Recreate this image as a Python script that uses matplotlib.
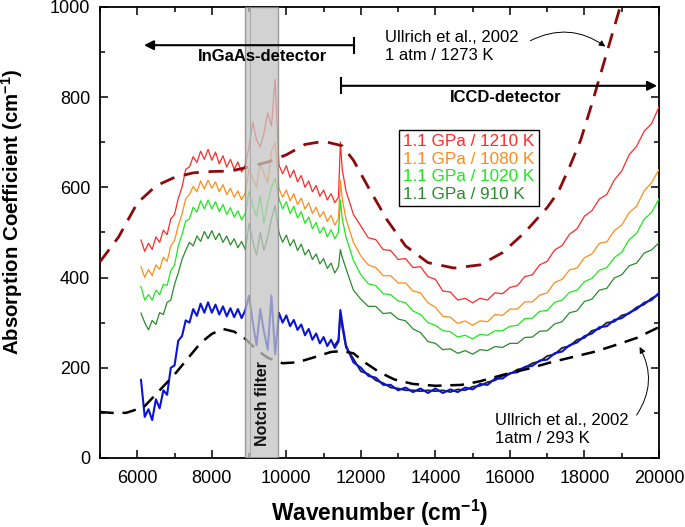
import numpy as np
import matplotlib
matplotlib.use('Agg')
import matplotlib.pyplot as plt
from matplotlib.ticker import MultipleLocator

plt.rcParams['font.family'] = ['Liberation Sans', 'DejaVu Sans']
plt.rcParams['mathtext.fontset'] = 'custom'
plt.rcParams['mathtext.rm'] = 'Liberation Sans'
plt.rcParams['mathtext.bf'] = 'Liberation Sans:bold'

# wavenumber grid of the measured spectra (cm-1)
wn = list(range(6100, 11401, 100)) + [11450, 11500] + list(range(11600, 20001, 200))

k1210 = [483, 458, 476, 462, 490, 478, 505, 495, 530, 540, 575, 600, 640, 645, 668, 655, 680, 662, 684, 660,
         678, 652, 670, 645, 662, 640, 656, 634, 650,
         690, 745, 705, 690, 720, 765, 735, 840,
         650, 630, 648, 622, 638, 612, 626, 600, 614, 590, 604, 580, 594, 572, 586, 566, 578,
         700, 640,
         592, 540, 514, 488, 484, 462, 460, 440, 442, 422, 424, 402, 396, 370, 368, 350, 354, 344, 354, 350,
         366, 364, 378, 382, 402, 406, 428, 436, 461, 471, 496, 508, 536, 548, 574, 584, 616, 636, 672, 691,
         724, 741, 778]
k1080 = [424, 400, 418, 404, 428, 418, 445, 436, 470, 482, 515, 540, 575, 584, 602, 590, 614, 596, 616, 598,
         612, 590, 606, 584, 598, 578, 592, 572, 588,
         640, 620, 600, 655, 630, 610, 680, 700,
         598, 578, 594, 570, 586, 562, 576, 552, 566, 542, 556, 534, 546, 524, 538, 516, 530,
         616, 575,
         530, 478, 448, 428, 422, 404, 404, 388, 388, 370, 366, 344, 334, 314, 312, 298, 304, 294, 304, 302,
         318, 316, 330, 330, 346, 346, 361, 366, 389, 396, 417, 421, 444, 452, 476, 479, 504, 516, 544, 558,
         592, 610, 639]
k1020 = [380, 350, 362, 350, 372, 362, 385, 382, 415, 428, 470, 495, 525, 530, 556, 545, 570, 552, 572, 552,
         568, 546, 562, 540, 555, 534, 548, 528, 542,
         590, 560, 535, 580, 520, 565, 600, 620,
         575, 552, 568, 542, 558, 532, 546, 520, 534, 508, 522, 498, 512, 490, 506, 486, 500,
         572, 530,
         490, 438, 406, 386, 382, 364, 362, 348, 344, 326, 318, 300, 294, 282, 280, 268, 272, 264, 274, 272,
         282, 282, 292, 294, 309, 310, 325, 327, 345, 350, 367, 372, 391, 398, 416, 422, 444, 456, 484, 498,
         529, 544, 574]
k910 = [321, 300, 284, 305, 296, 322, 318, 345, 350, 385, 410, 440, 460, 478, 470, 492, 480, 502, 486, 504,
        484, 498, 478, 492, 472, 486, 466, 480, 462,
        520, 480, 450, 500, 460, 490, 530, 560,
        500, 478, 494, 470, 484, 460, 474, 450, 462, 440, 452, 430, 442, 420, 432, 410, 424,
        462, 445,
        420, 372, 352, 336, 336, 320, 322, 308, 304, 286, 278, 258, 254, 240, 242, 232, 238, 230, 240, 238,
        247, 245, 254, 254, 267, 268, 281, 282, 297, 302, 322, 326, 347, 352, 372, 376, 399, 406, 426, 432,
        454, 461, 477]
k293_blue = [173, 91, 108, 84, 130, 110, 150, 140, 200, 205, 260, 270, 305, 300, 330, 315, 342, 322, 345, 322,
             340, 318, 336, 314, 332, 312, 330, 310, 328,
             360, 300, 250, 330, 280, 240, 360, 230,
             322, 300, 316, 292, 306, 284, 296, 272, 286, 262, 276, 254, 268, 248, 262, 244, 258,
             328, 300,
             250, 212, 200, 182, 178, 162, 162, 150, 156, 146, 154, 144, 154, 144, 152, 146, 156, 152, 164, 162,
             176, 176, 188, 190, 202, 204, 216, 218, 232, 236, 250, 256, 270, 276, 290, 292, 306, 310, 322, 330,
             344, 350, 366]

wn_black = wn[52:]
k293_black = [250, 262, 320, 290,
              245, 220, 192, 186, 172, 166, 156, 154, 150, 150, 148, 150, 148, 150, 146, 152, 150, 158, 160, 168,
              172, 182, 186, 196, 200, 210, 214, 226, 230, 244, 248, 262, 266, 282, 286, 300, 302, 316, 320, 334,
              340, 354, 362]

# Ullrich et al., 2002 reference curves
ull_hot_x = [5000, 5500, 6000, 6500, 7000, 7500, 8000, 8500, 9000, 9500, 10000, 10500, 11000, 11500,
             11800, 12200, 12700, 13200, 13800, 14500, 15200, 15800, 16400, 17000, 17300, 17600, 17900,
             18200, 18500, 18800, 19100]
ull_hot_y = [435, 490, 565, 603, 622, 632, 635, 636, 645, 656, 672, 695, 702, 692,
             660, 600, 528, 470, 433, 421, 428, 455, 500, 555, 590, 645, 705,
             785, 870, 955, 1040]
ull_cold_x = [5000, 5300, 5700, 6000, 6200, 6600, 7000, 7400, 7700, 8000, 8300, 8600, 8900, 9200, 9500,
              9900, 10300, 10700, 11200, 11500, 11800, 12100, 12500, 12900, 13400, 14000, 14700, 15200,
              15800, 16500, 17100, 17700, 18300, 18900, 19400, 20000]
ull_cold_y = [102, 100, 100, 108, 115, 150, 185, 225, 255, 275, 286, 280, 264, 240, 222,
              210, 212, 222, 235, 237, 232, 212, 190, 174, 164, 160, 162, 170,
              184, 198, 212, 224, 236, 252, 266, 290]

spectra = [
    (k1210, '#ff2a2a', '1.1 GPa / 1210 K'),
    (k1080, '#ff8c1a', '1.1 GPa / 1080 K'),
    (k1020, '#1ee81e', '1.1 GPa / 1020 K'),
    (k910, '#2a8c2a', '1.1 GPa / 910 K'),
]

fig = plt.figure(figsize=(6.85, 5.27), dpi=100)
ax = fig.add_axes([0.146, 0.131, 0.816, 0.856])

ax.plot(wn_black, k293_black, color='#222222', lw=1.3, zorder=2)
ax.plot(wn, k293_blue, color='#0a14d8', lw=1.5, zorder=3)
for ys, c, lab in spectra:
    ax.plot(wn, ys, color=c, lw=0.9, label=lab, zorder=3)

ax.plot(ull_hot_x, ull_hot_y, color='#8b0a0a', lw=2, dashes=(5.5, 3.5), zorder=4)
ax.plot(ull_cold_x, ull_cold_y, color='black', lw=1.8, dashes=(5.5, 3.5), zorder=4)

# notch filter region
ax.axvspan(8900, 9780, facecolor='#c4c4c4', edgecolor='#808080', lw=1.0, alpha=0.75, zorder=6)
ax.axvline(9020, color='#a8a8a8', lw=0.7, zorder=6)
ax.text(9360, 120, 'Notch filter', rotation=90, ha='center', va='center',
        fontsize=11.5, fontweight='bold', color='#111111', zorder=7)

# detector ranges
ax.annotate('', xy=(6180, 915), xytext=(11820, 915),
            arrowprops=dict(arrowstyle='-|>', color='black', lw=1.5, mutation_scale=14,
                            shrinkA=0, shrinkB=0), zorder=7)
ax.plot([11820, 11820], [898, 932], color='black', lw=1.5, zorder=7)
ax.text(9350, 889, 'InGaAs-detector', ha='center', va='center', fontsize=12, fontweight='bold', zorder=7)

ax.annotate('', xy=(19950, 825), xytext=(11470, 825),
            arrowprops=dict(arrowstyle='-|>', color='black', lw=1.5, mutation_scale=14,
                            shrinkA=0, shrinkB=0), zorder=7)
ax.plot([11470, 11470], [808, 842], color='black', lw=1.5, zorder=7)
ax.text(15880, 800, 'ICCD-detector', ha='center', va='center', fontsize=12, fontweight='bold', zorder=7)

# literature annotations
ax.text(12650, 913, 'Ullrich et al., 2002\n1 atm / 1273 K', ha='left', va='center',
        fontsize=12, linespacing=1.25)
ax.annotate('', xy=(18560, 912), xytext=(16550, 925),
            arrowprops=dict(arrowstyle='-|>', color='black', lw=0.7, mutation_scale=9,
                            connectionstyle='arc3,rad=-0.3', shrinkA=0, shrinkB=0))
ax.text(15600, 62, 'Ullrich et al., 2002\n1atm / 293 K', ha='left', va='center',
        fontsize=12, linespacing=1.25)
ax.annotate('', xy=(19480, 246), xytext=(19400, 95),
            arrowprops=dict(arrowstyle='-|>', color='black', lw=0.7, mutation_scale=9,
                            connectionstyle='arc3,rad=0.3', shrinkA=0, shrinkB=0))

leg = ax.legend(loc='upper left', bbox_to_anchor=(0.535, 0.727), handlelength=0, handletextpad=0,
                labelcolor='linecolor', fontsize=12.3, frameon=True, fancybox=False,
                edgecolor='black', framealpha=1, labelspacing=0.15, borderpad=0.25, borderaxespad=0)
for h in leg.legend_handles:
    h.set_visible(False)
leg.get_frame().set_linewidth(1.0)
leg.set_zorder(8)

ax.set_xlim(5000, 20000)
ax.set_ylim(0, 1000)
ax.xaxis.set_major_locator(MultipleLocator(2000))
ax.xaxis.set_minor_locator(MultipleLocator(1000))
ax.yaxis.set_major_locator(MultipleLocator(200))
ax.yaxis.set_minor_locator(MultipleLocator(100))
ax.tick_params(which='both', direction='in', top=True, right=True, labelsize=13)
ax.tick_params(which='major', length=6, width=1.1)
ax.tick_params(which='minor', length=3.5, width=1.1)
ax.tick_params(axis='x', pad=9)
ax.tick_params(axis='y', pad=7)
for s in ax.spines.values():
    s.set_linewidth(1.3)

ax.set_xlabel(r'Wavenumber (cm$^{\mathbf{-1}}$)', fontsize=16.4, fontweight='bold')
ax.set_ylabel(r'Absorption Coefficient (cm$^{\mathbf{-1}}$)', fontsize=14.7, fontweight='bold')
ax.xaxis.set_label_coords(0.5, -0.088)
ax.yaxis.set_label_coords(-0.134, 0.545)

fig.savefig('out.png', dpi=100)
